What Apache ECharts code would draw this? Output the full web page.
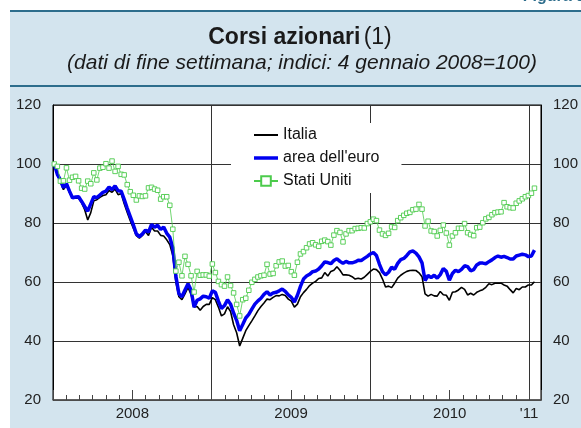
<!DOCTYPE html>
<html>
<head>
<meta charset="utf-8">
<script src="https://cdn.jsdelivr.net/npm/echarts@6/dist/echarts.min.js"></script>
<style>
  body { margin: 0; background: #fff; }
  #main { width: 581px; height: 428px; }
</style>
</head>
<body>
<div id="main"></div>
<script>
// dati settimanali, indici 4 gennaio 2008 = 100
const firstWeek = Date.UTC(2008, 0, 4);

const italia = [100, 96.5, 94, 91.3, 92.8, 90.3, 88.4, 88.4, 88.4, 86.8,
  84.5, 81, 83.5, 87.5, 87.9, 88.7, 89.3, 89.6, 91, 90.4,
  91.5, 89.6, 90, 86.5, 83.6, 80.8, 78.2, 75.7, 74.9, 75.8,
  77.1, 75.8, 78.6, 77.3, 77.3, 75.8, 75.6, 74.3, 72.7, 69,
  60, 55, 54, 56, 58.2, 55.8, 51.5, 51.7, 50.4, 51.7,
  52.4, 52.4, 54.7, 54, 51.5, 48.5, 49.2, 51.6, 50, 45.5,
  42.8, 38.3, 40.9, 43.5, 45.2, 46.8, 48.5, 50.3, 51.7, 52.9,
  54.2, 54, 54.8, 55.4, 55.3, 55.8, 55.4, 54.2, 53.5, 51.5,
  52.5, 55, 56.4, 57.5, 58.8, 59.6, 60.2, 61.2, 61.4, 63.2,
  62, 63.6, 64, 65.2, 64, 62.4, 62.4, 62.3, 61.8, 61,
  61.3, 61, 61.6, 62.6, 63.6, 64.4, 64.2, 63.2, 61, 58.3,
  58.6, 58.1, 59.6, 61.3, 62.3, 63, 63.6, 63.9, 64, 63.9,
  63.1, 61.8, 56, 55.2, 55.8, 55.3, 55.2, 56.8, 55.7, 55.5,
  53.8, 56.5, 56.7, 57.3, 58.2, 57.5, 55.6, 56.2, 55.6, 56.5,
  57, 57.4, 58.2, 59.4, 59.1, 59.6, 59.6, 59.6, 59, 58.6,
  57.4, 56.3, 57.8, 57.4, 58.3, 58.3, 59, 59, 60.1];

const areaEuro = [100, 96.5, 94.6, 92, 93.3, 90.8, 88.5, 88.8, 88.9, 87.3,
  85.6, 84, 86.5, 88.9, 88.6, 89.5, 90.4, 90.8, 92.2, 91.3,
  92.6, 90.9, 90.8, 88, 85, 82.2, 79.4, 76.3, 75.4, 76.3,
  77.6, 76.9, 79.5, 78.6, 79.2, 77.8, 78.6, 76.5, 75.2, 71.5,
  62, 56, 55, 57.3, 59.4, 57.3, 51.5, 53.8, 54.3, 55.2,
  55, 54.5, 57, 56.5, 53.5, 51, 52, 54, 52.5, 49.5,
  47, 43.5, 45.6, 47.8, 49, 50.8, 52.5, 53.6, 54.5, 55.8,
  56.7, 55.6, 56.3, 56.5, 57, 57.6, 56.8, 55.6, 54.8, 53.2,
  55.5, 58.5, 61, 62, 62.6, 63.5, 63.7, 64.4, 65.5, 66.8,
  66.6, 66.2, 67.3, 67.9, 67, 66.3, 67, 66.5, 66.5, 66.8,
  67.4, 67.3, 68, 68.7, 69.5, 70, 69, 66, 63.5, 62.4,
  63.3, 65, 64.3, 66.3, 67.6, 68, 69, 70.2, 70.5, 69.8,
  68.5, 66.5, 60.5, 62.2, 61.5, 62.3, 61.3, 62.5, 64.6, 63.6,
  60.6, 62.9, 64, 63.5, 64.3, 65.5, 65.2, 63.8, 64.2, 65.8,
  66.4, 66.4, 66.2, 66.9, 67.5, 68.3, 68.8, 68.4, 68.7, 68.3,
  67.8, 67.8, 68.8, 69.1, 69.4, 69.2, 68.6, 68.8, 70.8];

const statiUniti = [100, 99.2, 94.2, 94.3, 98.7, 94.5, 95.5, 95.8, 94.3, 91.8,
  91.5, 94.2, 93.3, 97, 94.6, 98.6, 98.9, 100.1, 98.6, 101,
  97.5, 99.2, 96.5, 96.3, 93, 90.6, 89.4, 87.8, 89.2, 89,
  89.2, 91.9, 92.1, 91.5, 91.1, 88.1, 88.9, 88.9, 86, 77.9,
  63.7, 66.7, 62.1, 68.7, 66, 62.1, 56.6, 63.6, 62.3, 62.4,
  62.4, 62, 66.1, 63.2, 60.2, 59.1, 58.6, 61.7, 58.8, 56.3,
  52.4, 48.5, 54, 54.5, 57.2, 59.9, 60.9, 61.7, 62.1, 62.3,
  66, 62.7, 62.9, 65.5, 66.8, 67.1, 65.4, 65.6, 63.5, 62.3,
  66.7, 69.5, 70.3, 71.6, 72.9, 73.3, 72.6, 72.1, 73.8, 74.2,
  73.7, 72.5, 75.9, 77.4, 76.8, 73.6, 76.3, 77.4, 77.4, 78.1,
  78.2, 78.4, 78.3, 79.8, 80.4, 81.3, 80.8, 77.6, 76.3, 75.8,
  76.5, 78.7, 78.5, 80.8, 81.8, 82.6, 83.3, 83.6, 84.5, 84.7,
  86.3, 84.7, 79, 80.6, 77.3, 77.1, 75.6, 77.5, 79.3, 76.6,
  72.5, 75.6, 76.7, 78.2, 78.2, 79.8, 76.7, 76.1, 75.7, 78.4,
  78.6, 80.1, 81.4, 81.9, 82.8, 83.5, 83.7, 83.8, 86.9, 85.5,
  85.2, 85.1, 86.7, 87.5, 88.2, 88.9, 89.3, 90.1, 91.8];

// etichette dell'asse x (mesi da gennaio 2008)
const yearLabels = { 6: '2008', 18: '2009', 30: '2010', 36: "'11" };

const font = 'Liberation Sans, Arial, Helvetica, sans-serif';
const panelBlue = '#d3e4ee';
const rule = '#2d6d8c';
const green = '#4ccb4c';

function weekly(values) {
  return values.map((v, i) => [firstWeek + i * 7 * 86400000, v]);
}

const chart = echarts.init(document.getElementById('main'));

const option = {
  backgroundColor: panelBlue,
  animation: false,
  textStyle: { fontFamily: font },
  graphic: [
    { type: 'rect', shape: { x: 0, y: 0, width: 581, height: 10 }, style: { fill: '#fff' }, silent: true },
    { type: 'rect', shape: { x: 0, y: 0, width: 10, height: 428 }, style: { fill: '#fff' }, silent: true },
    { type: 'rect', shape: { x: 10, y: 10, width: 571, height: 2 }, style: { fill: rule }, silent: true },
    { type: 'rect', shape: { x: 10, y: 85, width: 571, height: 2 }, style: { fill: rule }, silent: true },
    {
      type: 'text', x: 585, y: 5, silent: true,
      style: { text: 'Figura 8', font: 'bold 16px ' + font, fill: rule, align: 'right', verticalAlign: 'bottom' }
    },
    {
      type: 'text', x: 300, y: 38, silent: true,
      style: {
        text: '{b|Corsi azionari} {n|(1)}',
        align: 'center', verticalAlign: 'middle',
        rich: {
          b: { fontFamily: font, fontWeight: 'bold', fontSize: 23, fill: '#1a1a1a' },
          n: { fontFamily: font, fontSize: 23, fill: '#1a1a1a' }
        }
      }
    },
    {
      type: 'text', x: 302, y: 63, silent: true,
      style: {
        text: '(dati di fine settimana; indici: 4 gennaio 2008=100)',
        font: 'italic 21px ' + font, fill: '#1a1a1a', align: 'center', verticalAlign: 'middle'
      }
    }
  ],
  legend: {
    orient: 'vertical',
    left: 231, top: 123,
    padding: [4, 22, 4, 22],
    backgroundColor: '#fff',
    itemWidth: 24, itemHeight: 12, itemGap: 7,
    textStyle: { fontSize: 16, color: '#111', fontFamily: font },
    data: [
      { name: 'Italia', icon: 'path://M0,0L24,0L24,2L0,2Z' },
      { name: "area dell'euro", icon: 'path://M0,0L24,0L24,3.5L0,3.5Z' },
      { name: 'Stati Uniti' }
    ]
  },
  grid: {
    left: 53, right: 37, top: 105, bottom: 28,
    show: true, backgroundColor: '#fff', borderColor: '#000', borderWidth: 1
  },
  xAxis: [
    {
      type: 'time', min: Date.UTC(2008, 0, 1), max: Date.UTC(2011, 0, 29),
      show: false
    },
    {
      type: 'value', min: 0, max: 36.9, interval: 6,
      position: 'bottom',
      axisLine: { show: true, lineStyle: { color: '#555', width: 1.5 } },
      axisTick: { show: true, inside: true, length: 10, lineStyle: { color: '#444' } },
      minorTick: { show: true, splitNumber: 6, length: 5, lineStyle: { color: '#444' } },
      axisLabel: {
        margin: 6, fontSize: 15, color: '#222', showMaxLabel: false,
        formatter: v => yearLabels[v] || ''
      },
      splitLine: { show: true, lineStyle: { color: ['#333', 'rgba(0,0,0,0)'], width: 1 } }
    }
  ],
  yAxis: [
    {
      type: 'value', min: 20, max: 120, interval: 20, position: 'left',
      axisLine: { show: true, lineStyle: { color: '#000' } },
      axisTick: { show: false },
      axisLabel: { margin: 12, fontSize: 15, color: '#222' },
      splitLine: { show: true, lineStyle: { color: '#333' } }
    },
    {
      type: 'value', min: 20, max: 120, interval: 20, position: 'right',
      axisLine: { show: true, lineStyle: { color: '#000' } },
      axisTick: { show: false },
      axisLabel: { margin: 12, fontSize: 15, color: '#222' },
      splitLine: { show: false }
    }
  ],
  series: [
    {
      name: 'Italia', type: 'line', xAxisIndex: 0, yAxisIndex: 0,
      data: weekly(italia), symbol: 'none',
      itemStyle: { color: '#000' },
      lineStyle: { color: '#000', width: 1.6 }, z: 2
    },
    {
      name: "area dell'euro", type: 'line', xAxisIndex: 0, yAxisIndex: 0,
      data: weekly(areaEuro), symbol: 'none',
      itemStyle: { color: '#0000f0' },
      lineStyle: { color: '#0000f0', width: 3.5 }, z: 3
    },
    {
      name: 'Stati Uniti', type: 'line', xAxisIndex: 0, yAxisIndex: 0,
      data: weekly(statiUniti), symbol: 'rect', symbolSize: 4.5,
      itemStyle: { color: '#fff', borderColor: green, borderWidth: 0.9 },
      lineStyle: { color: green, width: 0.8 }, z: 4
    }
  ]
};

chart.setOption(option);
</script>
</body>
</html>
